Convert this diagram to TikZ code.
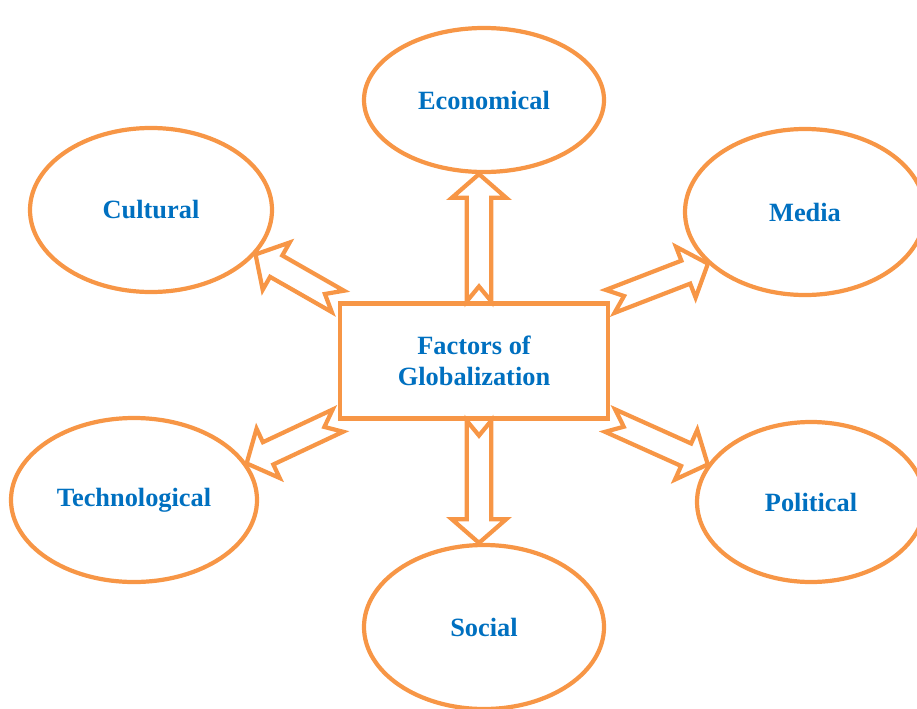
\documentclass[tikz,border=0pt]{standalone}
\usepackage{fontspec}
\setmainfont{Liberation Serif}
\usetikzlibrary{shapes.geometric,calc}
\definecolor{rim}{HTML}{F79646}
\definecolor{label}{HTML}{0070C0}

% hollow block arrow with a notched tail, drawn from #1 to #2
\newcommand{\blockarrow}[2]{%
  \coordinate (hb) at ($(#2)!13.5pt!(#1)$);
  \draw[rim,line width=2.4pt]
    ($(#1)!7pt!90:(#2)$) -- ($(#1)!8.5pt!(#2)$) -- ($(#1)!7pt!-90:(#2)$)
    -- ($(hb)!7pt!90:(#1)$) -- ($(hb)!15.5pt!90:(#1)$) -- (#2)
    -- ($(hb)!15.5pt!-90:(#1)$) -- ($(hb)!7pt!-90:(#1)$) -- cycle;}

\begin{document}
\begin{tikzpicture}[
    every node/.style={font=\fontsize{15}{17.6}\selectfont\bfseries, text=label},
    factor/.style={ellipse, draw=rim, line width=2.4pt, inner sep=0pt},
    hub/.style={draw=rim, line width=2.4pt, minimum width=5.36cm,
      minimum height=2.3cm, align=center}]
  \useasboundingbox (0,0) rectangle (18.34,14.16);

  % centre box
  \node[hub] (factors) at (9.48,6.94) {Factors of\\Globalization};

  % the six factors round it
  \node[factor, minimum width=4.8cm, minimum height=2.88cm] (eco) at (9.68,12.16) {Economical};
  \node[factor, minimum width=4.84cm, minimum height=3.28cm] (cul) at (3.02,9.96) {Cultural};
  \node[factor, minimum width=4.8cm, minimum height=3.32cm] (med) at (16.1,9.92) {Media};
  \node[factor, minimum width=4.92cm, minimum height=3.28cm] (tec) at (2.68,4.16) {Technological};
  \node[factor, minimum width=4.56cm, minimum height=3.2cm] (pol) at (16.22,4.12) {Political};
  \node[factor, minimum width=4.8cm, minimum height=3.28cm] (soc) at (9.68,1.62) {Social};

  % arrow ends on the box and the ellipses
  \coordinate (ecotail) at ([xshift=0.1cm]factors.north);
  \coordinate (soctail) at ([xshift=0.1cm]factors.south);
  \coordinate (ecotip) at (ecotail |- eco.south);
  \coordinate (soctip) at (soctail |- soc.north);

  \blockarrow{ecotail}{ecotip}
  \blockarrow{soctail}{soctip}
  \blockarrow{factors.north west}{cul.-23}
  \blockarrow{factors.north east}{med.208}
  \blockarrow{factors.south west}{tec.18}
  \blockarrow{factors.south east}{pol.160}
\end{tikzpicture}
\end{document}
